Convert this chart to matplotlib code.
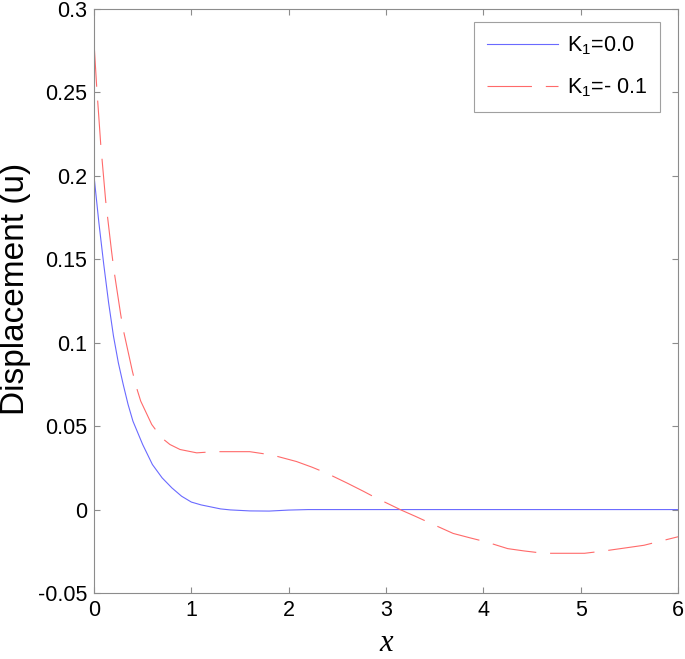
import matplotlib
matplotlib.use("Agg")
import matplotlib.pyplot as plt
from matplotlib.ticker import FuncFormatter

plt.rcParams['font.family'] = ['Liberation Sans', 'DejaVu Sans']
plt.rcParams['mathtext.fontset'] = 'custom'
plt.rcParams['mathtext.rm'] = 'Liberation Sans'
plt.rcParams['mathtext.it'] = 'Liberation Sans:italic'

# K1 = 0.0 curve
x_k0 = [0, 0.05, 0.1, 0.15, 0.2, 0.25, 0.3, 0.35, 0.4, 0.5, 0.6, 0.7, 0.8,
        0.9, 1.0, 1.1, 1.2, 1.3, 1.4, 1.6, 1.8, 2.0, 2.2, 3, 4, 5, 6]
u_k0 = [0.200, 0.172, 0.147, 0.124, 0.104, 0.088, 0.075, 0.063, 0.053, 0.039,
        0.027, 0.019, 0.013, 0.008, 0.0045, 0.0028, 0.0016, 0.0004, -0.0002,
        -0.0008, -0.0009, -0.0003, 0.0, 0.0, 0.0, 0.0, 0.0]

# K1 = -0.1 curve
x_k1 = [0, 0.027, 0.069, 0.12, 0.18, 0.206, 0.274, 0.30, 0.394, 0.432, 0.48,
        0.593, 0.695, 0.78, 0.884, 1.055, 1.24, 1.6, 1.83, 2.08, 2.24, 2.39,
        2.6, 2.77, 2.9, 3.04, 3.16, 3.30, 3.45, 3.69, 3.86, 4.03, 4.25, 4.42,
        4.62, 4.79, 5.04, 5.24, 5.41, 5.65, 6.0]
u_k1 = [0.280, 0.254, 0.219, 0.185, 0.155, 0.143, 0.117, 0.108, 0.083, 0.074,
        0.065, 0.051, 0.043, 0.039, 0.036, 0.034, 0.0347, 0.0347, 0.0327,
        0.0288, 0.0254, 0.0218, 0.0159, 0.0109, 0.0069, 0.003, -0.0004, -0.004,
        -0.008, -0.0143, -0.0169, -0.0194, -0.0234, -0.0248, -0.0262, -0.0262,
        -0.0262, -0.0248, -0.0234, -0.0214, -0.0163]

labels = [r'$\mathrm{K_1}$=0.0', r'$\mathrm{K_1}$=- 0.1']
x_ticks = [0, 1, 2, 3, 4, 5, 6]
y_ticks = [-0.05, 0, 0.05, 0.1, 0.15, 0.2, 0.25, 0.3]

fig = plt.figure(figsize=(6.85, 6.59), dpi=100)
ax = fig.add_axes([94 / 685, 1 - 593 / 659, 584 / 685, 584 / 659])

ax.plot(x_k0, u_k0, color='#6a6aff', lw=0.8, label=labels[0])
ax.plot(x_k1, u_k1, color='#ff6a6a', lw=0.8, dashes=(40, 12.5), label=labels[1])

ax.set_xlim(0, 6)
ax.set_ylim(-0.05, 0.3)
ax.set_xticks(x_ticks)
ax.set_yticks(y_ticks)
ax.yaxis.set_major_formatter(FuncFormatter(lambda v, p: ('%g' % round(v, 3))))

for s in ax.spines.values():
    s.set_color('#8c8c8c')
    s.set_linewidth(0.8)
ax.tick_params(direction='in', length=4, width=0.8, color='#8c8c8c',
               top=True, right=True, labelsize=15.5, labelcolor='black', pad=5)

ax.set_ylabel('Displacement (u)', fontsize=24)
ax.yaxis.set_label_coords(-0.108, 0.52)
ax.set_xlabel('x', fontsize=22, family='Liberation Serif', style='italic', labelpad=6)

leg = ax.legend(loc='upper right', bbox_to_anchor=(0.969, 0.978), fontsize=15.5,
                handlelength=3.3, handletextpad=0.4, labelspacing=0.9,
                fancybox=False, framealpha=1, borderaxespad=0, borderpad=0.6)
leg.get_frame().set_edgecolor('#a0a0a0')
leg.get_frame().set_linewidth(0.8)

fig.savefig('out.png', dpi=100)
